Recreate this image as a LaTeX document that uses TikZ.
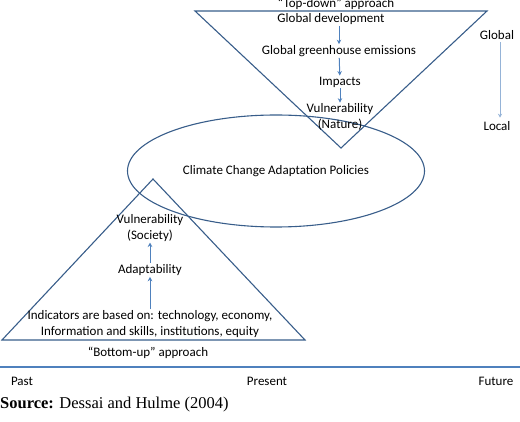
\documentclass[tikz,border=0pt]{standalone}
\usepackage{fontspec}
\setmainfont{Carlito}
\newfontfamily\srcfont{Liberation Serif}
\usetikzlibrary{shapes.geometric,arrows.meta}

\definecolor{outline}{HTML}{385D8A}
\definecolor{flow}{HTML}{4F81BD}
\definecolor{scalecol}{HTML}{95B3D7}

\tikzset{
    label text/.style = {font=\fontsize{13}{15.5}\selectfont, text=black, inner sep=0.5pt, align=center},
    flow arrow/.style = {flow, line width=1pt, -{Stealth[length=4.5pt,width=4.5pt]}, shorten <=0.5pt, shorten >=0.5pt},
    frame line/.style = {outline, line width=1.1pt}
}

\begin{document}
\begin{tikzpicture}[x=1pt, y=-1pt]
\useasboundingbox (0,0) rectangle (520,422);

% shapes
\node [frame line, draw, ellipse, minimum width=297pt, minimum height=112pt, label text]
    (policies) at (276,171) {Climate Change Adaptation Policies};
\draw [frame line, line join=miter] (195,11) -- (487,11) -- (341,148) -- cycle;
\draw [frame line, line join=miter] (2,340) -- (305,340) -- (153,179) -- cycle;

% top-down chain
\node [label text] (topdown) at (336,3.5) {``Top-down'' approach};
\node [label text] (gdev) at (331,19) {Global development};
\node [label text] (ghg) at (339,51) {Global greenhouse emissions};
\node [label text] (impacts) at (340,82) {Impacts};
\node [label text] (natvul) at (340,117) {Vulnerability\\(Nature)};
\draw [flow arrow] (gdev.south -| ghg) -- (ghg.north);
\draw [flow arrow] (ghg) -- (impacts);
\draw [flow arrow] (impacts) -- (natvul);

% bottom-up chain
\node [label text] (socvul) at (150,228) {Vulnerability\\(Society)};
\node [label text] (adapt) at (150,270) {Adaptability};
\node [label text] (indic) at (150,324) {Indicators are based on: technology, economy,\\Information and skills, institutions, equity};
\node [label text] (bottomup) at (148,353) {``Bottom-up'' approach};
\draw [flow arrow] (indic) -- (adapt);
\draw [flow arrow] (adapt) -- (socvul);

% scale
\node [label text] (global) at (497,35) {Global};
\node [label text] (local) at (497,126) {Local};
\draw [scalecol, line width=0.8pt, -{Stealth[length=4pt,width=4pt]}, shorten <=2pt, shorten >=3pt]
    (global.south -| 500,0) -- (local.north -| 500,0);

% time line
\coordinate (tl) at (0,367);
\coordinate (tr) at (520,367);
\draw [flow, line width=1.8pt] (tl) -- (tr);
\node [label text] (past) at (22,381) {Past};
\node [label text] (present) at (267,381) {Present};
\node [label text] (future) at (496,381) {Future};

\node [anchor=west, inner sep=0pt, font=\srcfont\fontsize{16.5}{19}\selectfont] (source) at (0,405)
    {\textbf{Source:} Dessai and Hulme (2004)};
\end{tikzpicture}
\end{document}
